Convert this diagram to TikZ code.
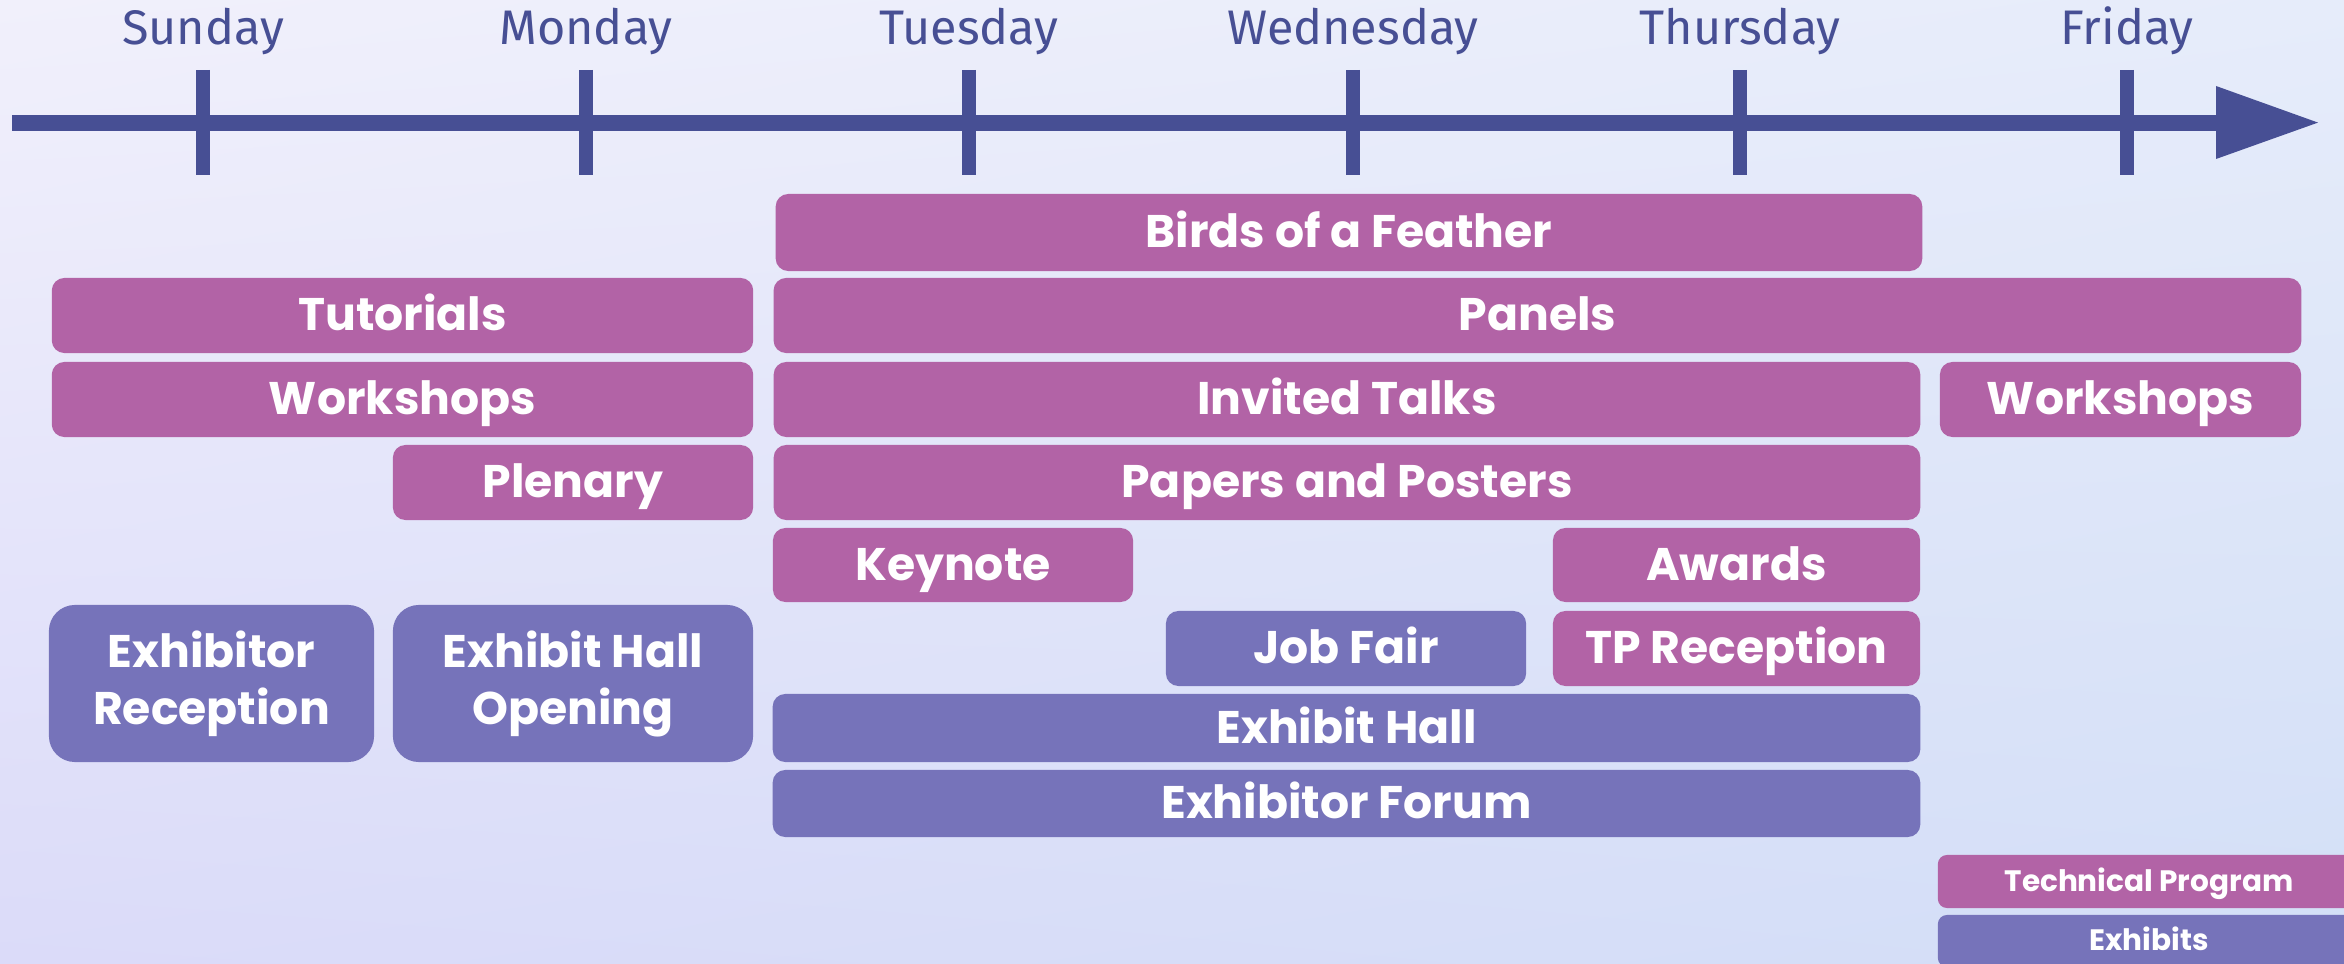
\documentclass[tikz,border=0pt]{standalone}
\usepackage{fontspec}
\setmainfont{Poppins}
\newfontfamily\dayfont{Fira Sans}
\usepackage{tikz}
\usetikzlibrary{shadings}
\definecolor{tpink}{HTML}{B263A6}
\definecolor{exblue}{HTML}{7673BA}
\definecolor{axisblue}{HTML}{474F94}
\definecolor{bgtl}{HTML}{F1F0FB}
\definecolor{bgtr}{HTML}{E6ECFA}
\definecolor{bgbl}{HTML}{DBDBF9}
\definecolor{bgbr}{HTML}{D3DFF7}
\newcommand{\boxfont}{\fontsize{13}{16.2}\selectfont\bfseries}
\tikzstyle{ev} = [rectangle, inner sep=0pt, text=white, font=\boxfont, align=center, rounded corners=1.25mm]
\tikzstyle{oneline} = [text height=9.3pt, text depth=0.5pt]
\tikzstyle{prog} = [ev, oneline, fill=tpink]
\tikzstyle{exhib} = [ev, oneline, fill=exblue]
\tikzstyle{tallex} = [ev, fill=exblue, rounded corners=2.6mm, minimum width=3.6cm, minimum height=1.57cm]
\tikzstyle{day} = [text=axisblue, font=\dayfont\fontsize{13.8}{16}\selectfont, anchor=base]
\tikzstyle{legend} = [rectangle, inner sep=0pt, text=white, rounded corners=0.9mm, font=\fontsize{8.4}{10}\selectfont\bfseries, text height=6pt, text depth=0.5pt, minimum width=4.22cm]

\begin{document}
\begin{tikzpicture}[x=0.01cm, y=-0.01cm]
    \useasboundingbox (0,0) rectangle (2344,964);
    \shade[upper left=bgtl, upper right=bgtr, lower left=bgbl, lower right=bgbr] (0,0) rectangle (2344,964);
    \clip (0,0) rectangle (2344,964);
    % days of the week
    \fill[axisblue] (12,114.6) rectangle (2218,130.6);
    \fill[axisblue] (2216,86) -- (2318,122.6) -- (2216,159) -- cycle;
    \foreach \d/\x/\n in {Sunday/203/sun, Monday/586/mon, Tuesday/969/tue, Wednesday/1353/wed, Thursday/1740/thu, Friday/2127/fri} {
        \draw[axisblue, line width=1.4mm] (\x,70) -- (\x,175);
        \node[day] (\n) at (\x,45) {\d};
    }
    % technical program
    \node[prog, minimum width=11.46cm, minimum height=0.77cm] (bof) at (1349,232.5) {Birds of a Feather};
    \node[prog, minimum width=7.01cm, minimum height=0.75cm] (tut) at (402.5,315.5) {Tutorials};
    \node[prog, minimum width=15.27cm, minimum height=0.75cm] (pan) at (1537.5,315.5) {Panels};
    \node[prog, minimum width=7.01cm, minimum height=0.75cm] (wsl) at (402.5,399.5) {Workshops};
    \node[prog, minimum width=11.46cm, minimum height=0.75cm] (inv) at (1347,399.5) {Invited Talks};
    \node[prog, minimum width=3.61cm, minimum height=0.75cm] (wsr) at (2120.5,399.5) {Workshops};
    \node[prog, minimum width=3.6cm, minimum height=0.75cm] (ple) at (573,482.5) {Plenary};
    \node[prog, minimum width=11.46cm, minimum height=0.75cm] (pap) at (1347,482.5) {Papers and Posters};
    \node[prog, minimum width=3.6cm, minimum height=0.74cm] (key) at (953,565) {Keynote};
    \node[prog, minimum width=3.67cm, minimum height=0.74cm] (awd) at (1736.5,565) {Awards};
    \node[prog, minimum width=3.67cm, minimum height=0.75cm] (tpr) at (1736.5,648.5) {TP Reception};
    % exhibits
    \node[tallex, minimum width=3.25cm] (exr) at (211.5,683.5) {Exhibitor\\Reception};
    \node[tallex] (eho) at (573,683.5) {Exhibit Hall\\Opening};
    \node[exhib, minimum width=3.6cm, minimum height=0.75cm] (job) at (1346,648.5) {Job Fair};
    \node[exhib, minimum width=11.47cm, minimum height=0.68cm] (exh) at (1346.5,728) {Exhibit Hall};
    \node[exhib, minimum width=11.47cm, minimum height=0.67cm] (exf) at (1346.5,803.5) {Exhibitor Forum};
    % legend
    \node[legend, fill=tpink, minimum height=0.53cm] (lgtp) at (2149,881.5) {Technical Program};
    \node[legend, fill=exblue, minimum height=0.52cm] (lgex) at (2149,941) {Exhibits};
\end{tikzpicture}
\end{document}
